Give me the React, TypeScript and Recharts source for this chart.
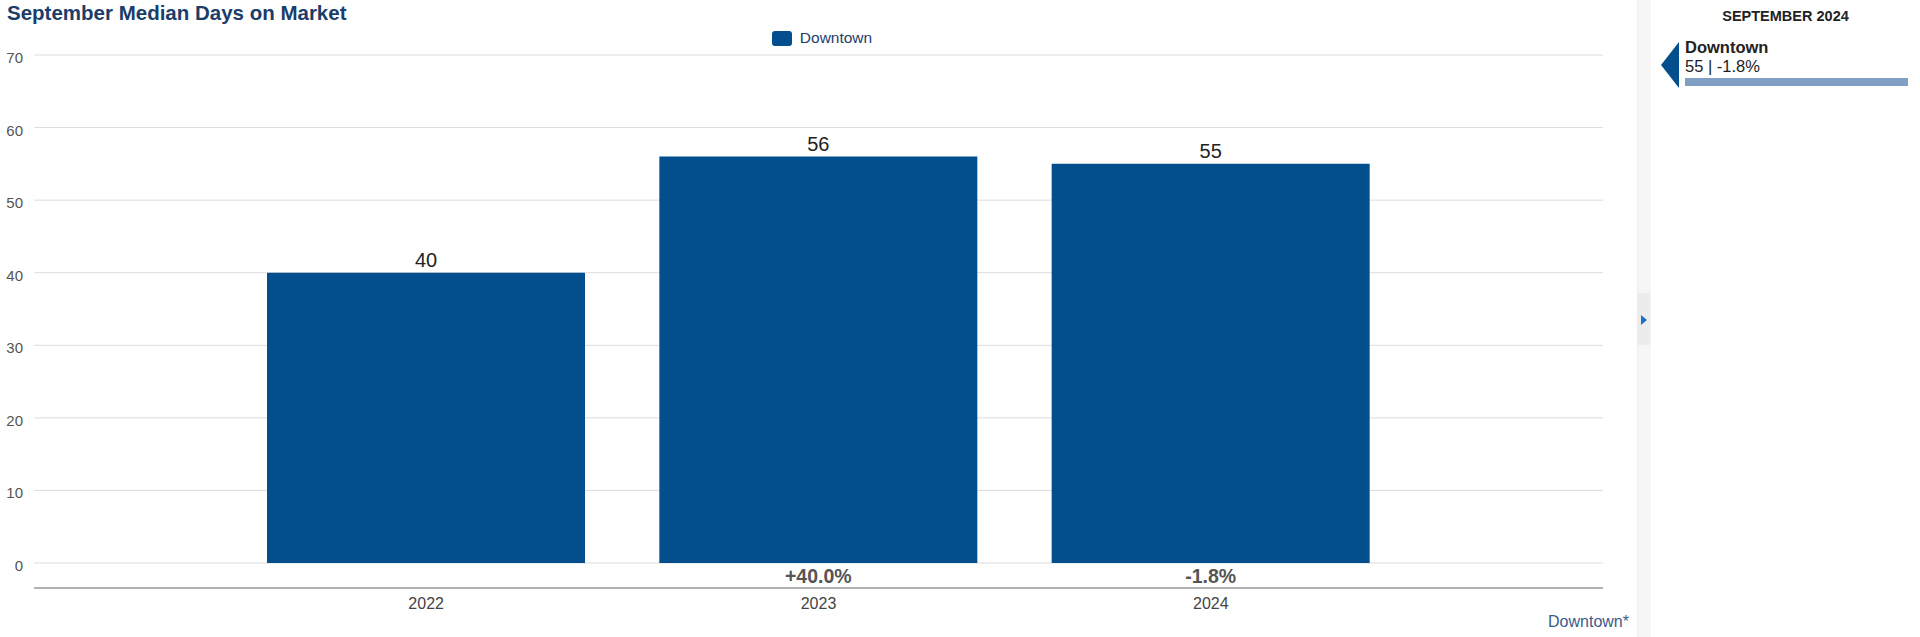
import { BarChart, Bar, XAxis, YAxis, CartesianGrid, LabelList } from "recharts"

const years = ["2022", "2023", "2024"]
const medianDays = [40, 56, 55]
const changeLabels = ["", "+40.0%", "-1.8%"]
const yTicks = [0, 10, 20, 30, 40, 50, 60, 70]

const data = years.map((year, i) => ({
  year,
  days: medianDays[i],
  change: changeLabels[i],
}))

const FONT = '"Liberation Sans", Arial, sans-serif'
const BLUE = "#034f8e"

const YTick = ({ x, y, payload }: any) => (
  <text x={x} y={y} dy={8} textAnchor="end" fontSize={15} fill="#555" fontFamily={FONT}>
    {payload.value}
  </text>
)

const XTick = ({ x, y, payload }: any) => (
  <text x={x} y={y} dy={13} textAnchor="middle" fontSize={16} fill="#444" fontFamily={FONT}>
    {payload.value}
  </text>
)

const ChangeLabel = (props: any) => {
  const { x, y, width, height, value } = props
  if (!value) return null
  return (
    <text
      x={x + width / 2}
      y={y + height + 20}
      textAnchor="middle"
      fontSize={19.5}
      fontWeight="bold"
      fill="#555"
      fontFamily={FONT}
    >
      {value}
    </text>
  )
}

export default function App() {
  return (
    <div
      style={{
        position: "absolute",
        left: 0,
        top: 0,
        width: 1920,
        height: 637,
        background: "#fff",
        fontFamily: FONT,
        overflow: "hidden",
      }}
    >
      <div
        style={{
          position: "absolute",
          left: 7,
          top: 1,
          fontSize: 20.5,
          fontWeight: "bold",
          color: "#1b3d69",
          whiteSpace: "nowrap",
        }}
      >
        September Median Days on Market
      </div>

      {/* legend */}
      <div
        style={{
          position: "absolute",
          left: 0,
          top: 29,
          width: 1644,
          display: "flex",
          justifyContent: "center",
          alignItems: "center",
          fontSize: 15.5,
          color: "#1f3d6b",
        }}
      >
        <span
          style={{
            display: "inline-block",
            width: 20,
            height: 15,
            borderRadius: 3,
            background: BLUE,
            marginRight: 8,
          }}
        />
        <span>Downtown</span>
      </div>

      <div style={{ position: "absolute", left: 0, top: 0 }}>
        <BarChart
          width={1640}
          height={637}
          data={data}
          margin={{ top: 55, right: 37, bottom: 19, left: 0 }}
        >
          <CartesianGrid horizontal vertical={false} stroke="#dcdcdc" />
          <XAxis
            dataKey="year"
            height={30}
            padding={{ left: 196, right: 196 }}
            axisLine={{ stroke: "#777", strokeWidth: 1 }}
            tickLine={false}
            tick={<XTick />}
          />
          <YAxis
            width={34}
            domain={[-3.445, 70]}
            ticks={yTicks}
            allowDataOverflow
            axisLine={false}
            tickLine={false}
            tickSize={0}
            tickMargin={11}
            tick={<YTick />}
          />
          <Bar dataKey="days" fill={BLUE} barSize={318} isAnimationActive={false}>
            <LabelList
              dataKey="days"
              position="top"
              offset={6}
              fontSize={20}
              fill="#222"
              fontFamily={FONT}
            />
            <LabelList dataKey="change" content={<ChangeLabel />} />
          </Bar>
        </BarChart>
      </div>

      <div
        style={{
          position: "absolute",
          right: 291,
          top: 613,
          fontSize: 16,
          color: "#3d5a8a",
          whiteSpace: "nowrap",
        }}
      >
        Downtown*
      </div>

      {/* collapse strip */}
      <div
        style={{
          position: "absolute",
          left: 1637,
          top: 0,
          width: 13,
          height: 637,
          background: "#f6f6f6",
          borderLeft: "1px solid #eeeeee",
        }}
      />
      <div
        style={{
          position: "absolute",
          left: 1637,
          top: 293,
          width: 13,
          height: 52,
          background: "#ececec",
        }}
      />
      <div
        style={{
          position: "absolute",
          left: 1641,
          top: 315,
          width: 0,
          height: 0,
          borderTop: "5.5px solid transparent",
          borderBottom: "5.5px solid transparent",
          borderLeft: "6px solid #1f6fc1",
        }}
      />

      {/* side panel */}
      <div
        style={{
          position: "absolute",
          left: 1651,
          top: 8,
          width: 269,
          textAlign: "center",
          fontSize: 14.5,
          fontWeight: "bold",
          color: "#222",
        }}
      >
        SEPTEMBER 2024
      </div>
      <div
        style={{
          position: "absolute",
          left: 1661,
          top: 42,
          width: 0,
          height: 0,
          borderTop: "23.5px solid transparent",
          borderBottom: "23.5px solid transparent",
          borderRight: `18px solid ${BLUE}`,
        }}
      />
      <div
        style={{
          position: "absolute",
          left: 1685,
          top: 38,
          fontSize: 16.5,
          fontWeight: "bold",
          color: "#222",
          whiteSpace: "nowrap",
        }}
      >
        Downtown
      </div>
      <div
        style={{
          position: "absolute",
          left: 1685,
          top: 57,
          fontSize: 16.5,
          color: "#222",
          whiteSpace: "nowrap",
        }}
      >
        55 | -1.8%
      </div>
      <div
        style={{
          position: "absolute",
          left: 1685,
          top: 78,
          width: 223,
          height: 8,
          background: "#7fa0c3",
        }}
      />
    </div>
  )
}
